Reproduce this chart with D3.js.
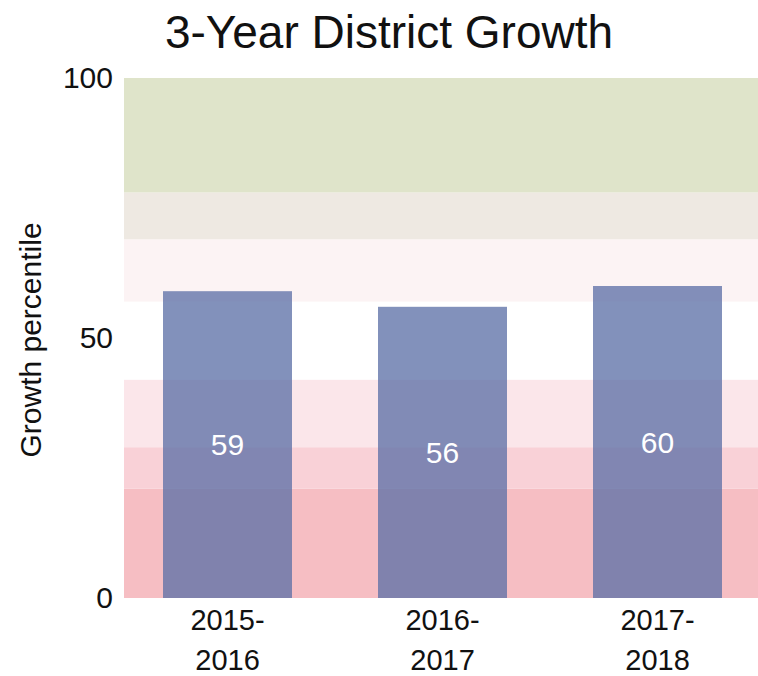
<!DOCTYPE html>
<html>
<head>
<meta charset="utf-8">
<script src="https://cdn.jsdelivr.net/npm/d3@7"></script>
<style>
  body { margin: 0; background: #fff; }
  text { font-family: "Liberation Sans", Arial, sans-serif; fill: #111; }
</style>
</head>
<body>
<div id="chart"></div>
<script>
// Data
const years = ["2015-2016", "2016-2017", "2017-2018"];
const growth = [59, 56, 60];
const yTicks = [0, 50, 100];

// Background percentile bands (lower, upper, colour)
const bandLows = [0, 21, 29, 42, 57, 69, 78];
const bandHighs = [21, 29, 42, 57, 69, 78, 100];
const bandColors = ["#f6bec3", "#f9d1d7", "#fbe6ea", "#ffffff", "#fcf3f4", "#eee9e2", "#dfe4ca"];

const width = 758;
const height = 676;

const svg = d3.select("#chart").append("svg")
    .attr("width", width)
    .attr("height", height);

const x = d3.scaleBand()
    .domain(years)
    .range([120, 765])
    .paddingInner(0.4)
    .paddingOuter(0.2);

const y = d3.scaleLinear()
    .domain([0, 100])
    .range([598, 78]);

// Bands
svg.append("g").selectAll("rect")
    .data(bandLows)
    .enter().append("rect")
    .attr("x", 124)
    .attr("width", width - 124)
    .attr("y", (d, i) => y(bandHighs[i]))
    .attr("height", (d, i) => y(d) - y(bandHighs[i]))
    .attr("fill", (d, i) => bandColors[i]);

// Bars
svg.append("g").selectAll("rect")
    .data(growth)
    .enter().append("rect")
    .attr("x", (d, i) => x(years[i]))
    .attr("width", x.bandwidth())
    .attr("y", d => y(d))
    .attr("height", d => y(0) - y(d))
    .attr("fill", "#5b6ea6")
    .attr("fill-opacity", 0.76);

// Value labels
svg.append("g").selectAll("text")
    .data(growth)
    .enter().append("text")
    .attr("x", (d, i) => x(years[i]) + x.bandwidth() / 2)
    .attr("y", d => (y(d) + y(0)) / 2)
    .attr("dy", "0.36em")
    .attr("text-anchor", "middle")
    .style("font-size", "30px")
    .style("fill", "#fff")
    .text(d => d);

// Y axis (labels only)
const yAxis = svg.append("g")
    .attr("transform", "translate(117,0)")
    .call(d3.axisLeft(y).tickValues(yTicks).tickSize(0).tickPadding(4));
yAxis.select(".domain").remove();
yAxis.selectAll("text")
    .style("font-size", "30px")
    .style("font-family", "'Liberation Sans', Arial, sans-serif")
    .attr("fill", "#111");

// X axis labels, two lines
const xAxis = svg.append("g")
    .attr("transform", "translate(0,598)")
    .call(d3.axisBottom(x).tickSize(0).tickFormat(""));
xAxis.select(".domain").remove();
xAxis.selectAll(".tick").append("text")
    .attr("text-anchor", "middle")
    .style("font-size", "29px")
    .style("fill", "#111")
    .selectAll("tspan")
    .data(d => { const p = d.split("-"); return [p[0] + "-", p[1]]; })
    .enter().append("tspan")
    .attr("x", 0)
    .attr("y", (d, i) => 32 + i * 40)
    .text(d => d);

// Y axis title
svg.append("text")
    .attr("transform", "translate(41,340) rotate(-90)")
    .attr("text-anchor", "middle")
    .style("font-size", "30px")
    .text("Growth percentile");

// Title
svg.append("text")
    .attr("x", 389)
    .attr("y", 48)
    .attr("text-anchor", "middle")
    .style("font-size", "46px")
    .text("3-Year District Growth");
</script>
</body>
</html>
